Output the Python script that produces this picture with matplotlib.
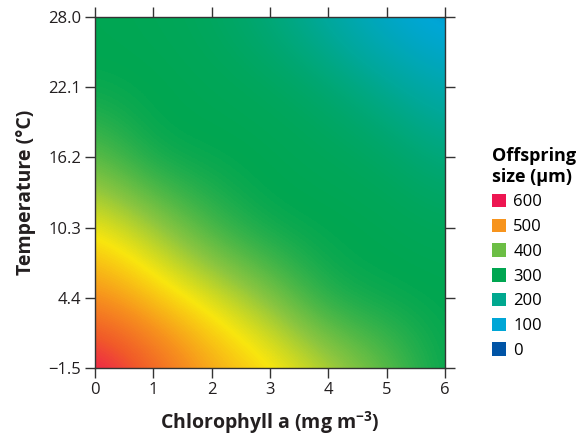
import numpy as np
import matplotlib

matplotlib.use("Agg")
import matplotlib.pyplot as plt
from matplotlib.colors import LinearSegmentedColormap, Normalize
from matplotlib.patches import Patch

plt.rcParams["font.family"] = ["Open Sans", "DejaVu Sans"]
plt.rcParams["mathtext.fontset"] = "custom"
plt.rcParams["mathtext.rm"] = "Open Sans"
plt.rcParams["mathtext.bf"] = "Open Sans:bold"

# grid: rows = temperature ticks, cols = chlorophyll 0..6
chlorophyll = [0, 1, 2, 3, 4, 5, 6]
temperature = [-1.5, 4.4, 10.3, 16.2, 22.1, 28.0]
temp_labels = ["\u22121.5", "4.4", "10.3", "16.2", "22.1", "28.0"]
size_grid = [
    [600, 550, 495, 465, 420, 365, 300],  # -1.5
    [510, 475, 440, 385, 310, 300, 300],  # 4.4
    [452, 405, 335, 300, 300, 298, 290],  # 10.3
    [360, 300, 300, 298, 292, 280, 245],  # 16.2
    [300, 300, 295, 288, 265, 220, 165],  # 22.1
    [298, 293, 282, 245, 185, 110, 70],   # 28.0
]

legend_values = [600, 500, 400, 300, 200, 100, 0]
legend_colors = ["#ED1651", "#F7941D", "#6CBE45", "#00A651", "#00A88F", "#00A6D6", "#0054A6"]

# colour ramp used in the map (yellow sits between orange and light green)
ramp_values = [0, 100, 200, 300, 390, 450, 505, 550, 590, 600]
ramp_colors = ["#0054A6", "#00A6D6", "#00A89A", "#00A651", "#8DC63F", "#F9E60E",
               "#F7941D", "#F15A29", "#ED1651", "#ED1651"]

cmap = LinearSegmentedColormap.from_list(
    "offspring", list(zip(np.array(ramp_values) / 600, ramp_colors)))

fig = plt.figure(figsize=(5.84, 4.37), dpi=100)
ax = fig.add_axes([0.163, 0.158, 0.599, 0.803])

dx = chlorophyll[1] - chlorophyll[0]
dy = temperature[1] - temperature[0]
ax.imshow(np.array(size_grid), origin="lower", cmap=cmap, norm=Normalize(0, 600),
          interpolation="bicubic", interpolation_stage="data", aspect="auto",
          extent=[chlorophyll[0] - dx / 2, chlorophyll[-1] + dx / 2,
                  temperature[0] - dy / 2, temperature[-1] + dy / 2])
ax.set_xlim(chlorophyll[0], chlorophyll[-1])
ax.set_ylim(temperature[0], temperature[-1])

ax.set_xticks(chlorophyll)
ax.set_yticks(temperature, temp_labels)
ax.tick_params(direction="out", length=7, width=1, color="#333333",
               labelsize=12, labelcolor="#231F20", pad=3,
               top=True, right=True)
for s in ax.spines.values():
    s.set_color("#333333")
    s.set_linewidth(1)

ax.set_xlabel("Chlorophyll a (mg m$\\mathbf{^{-3}}$)", fontsize=14, fontweight="bold",
              color="#231F20", labelpad=8)
ax.set_ylabel("Temperature (\u00b0C)", fontsize=14, fontweight="bold",
              color="#231F20", labelpad=9)

handles = [Patch(facecolor=c, edgecolor="none") for c in legend_colors]
leg = fig.legend(handles, [str(v) for v in legend_values], loc="upper left",
                 bbox_to_anchor=(0.842, 0.664), frameon=False, fontsize=12,
                 borderpad=0, borderaxespad=0,
                 handlelength=0.85, handleheight=0.85, handletextpad=0.45,
                 labelspacing=0.5, title="Offspring\nsize (\u00b5m)",
                 title_fontproperties={"weight": "bold", "size": 13},
                 alignment="left")

fig.savefig("out.png", dpi=100)
